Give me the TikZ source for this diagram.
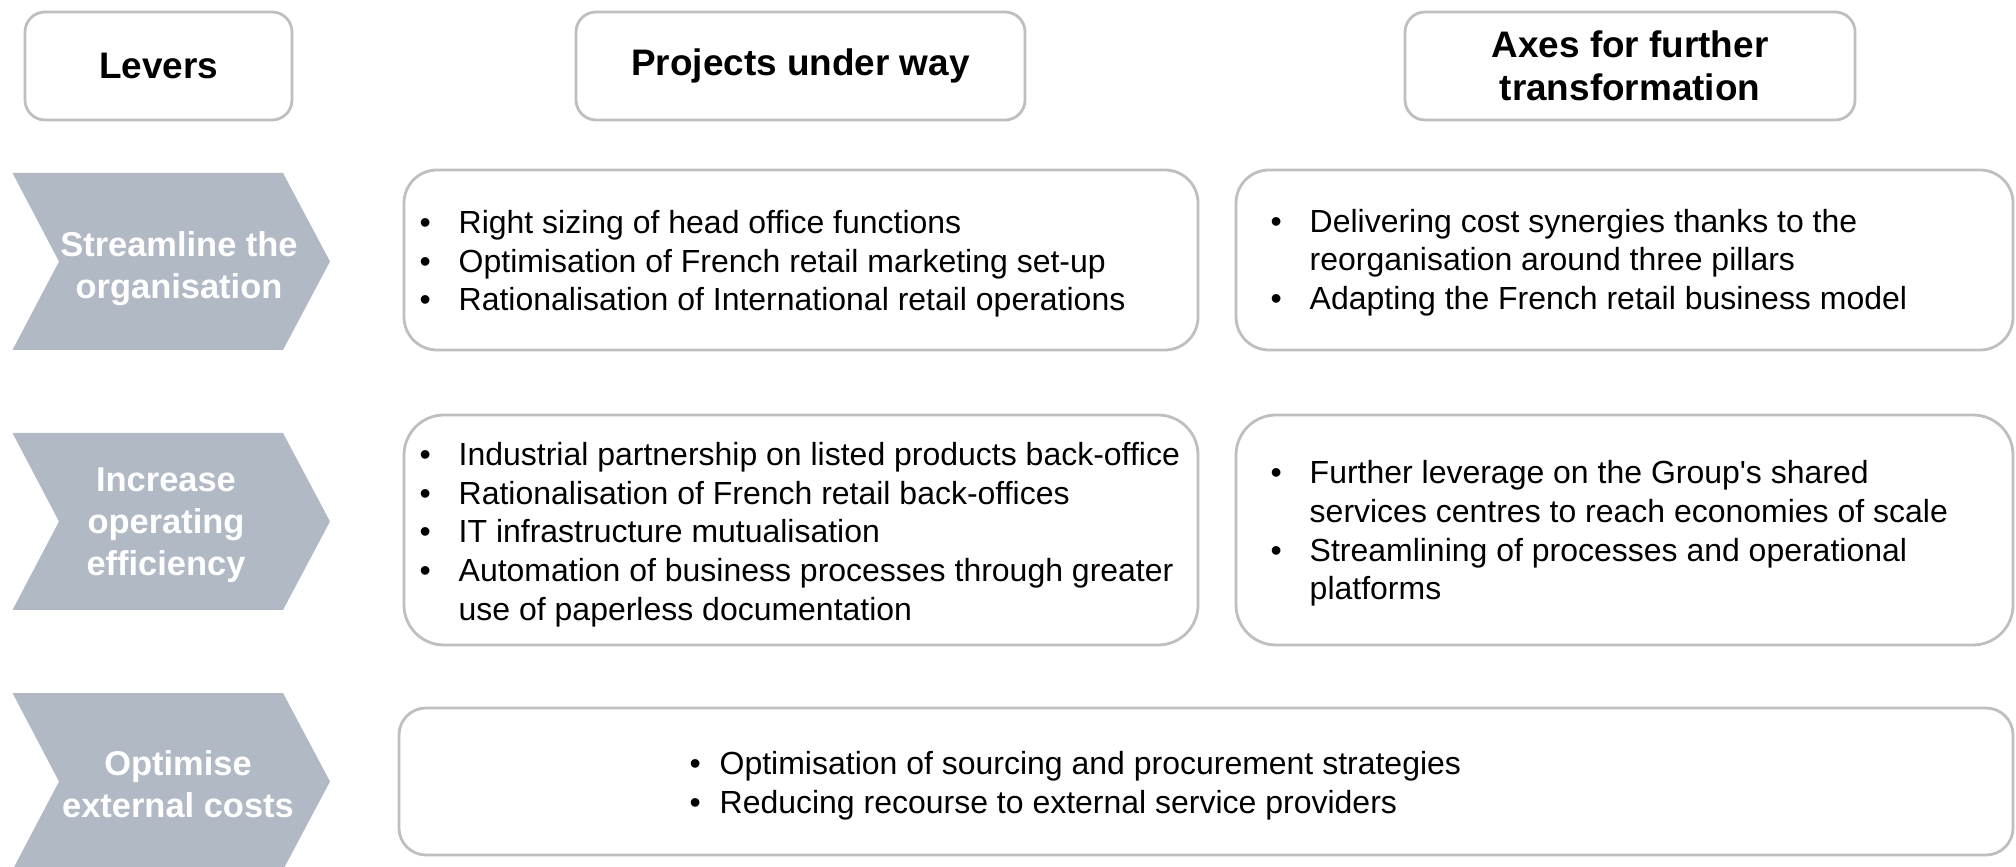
\documentclass[tikz,border=0pt]{standalone}
\usepackage{fontspec}
\setmainfont{Liberation Sans}
\definecolor{levergray}{RGB}{177,185,197}
\definecolor{boxgray}{RGB}{191,191,191}
\tikzset{
  hdr/.style={draw=boxgray, line width=0.8pt, rounded corners=0.2cm, minimum height=1.08cm,
    align=center, font=\fontsize{10.5}{12.2}\selectfont\bfseries},
  panel/.style={draw=boxgray, line width=0.8pt, rounded corners=0.33cm},
  blist/.style={anchor=west, align=left, inner sep=0pt, font=\fontsize{9.1}{11}\selectfont},
  levertxt/.style={text=white, align=center, font=\fontsize{9.8}{12}\selectfont\bfseries}
}
\newcommand{\bitem}{\makebox[0.39cm][l]{\textbullet}}
\newcommand{\bcont}{\hspace*{0.39cm}}

\begin{document}
\begin{tikzpicture}
        \useasboundingbox (0,0) rectangle (20.16,8.66);
        % levers
        \foreach \yc/\xt/\yt/\lbl [count=\i] in {6.045/1.79/5.975/{Streamline the\\organisation},
            3.445/1.66/3.405/{Increase\\operating\\efficiency}, 0.845/1.78/0.815/{Optimise\\external costs}}{
          \fill[levergray] (0.125,\yc+0.885) -- (2.83,\yc+0.885) -- (3.30,\yc)
            -- (2.83,\yc-0.885) -- (0.125,\yc-0.885) -- (0.59,\yc) -- cycle;
          \node[levertxt] (lever\i) at (\xt,\yt) {\lbl};
        }
        % column headers
        \node[hdr,minimum width=2.67cm] (levers) at (1.585,8.0) {Levers};
        \node[hdr,minimum width=4.49cm] (projects) at (8.005,8.0) {Projects under way};
        \node[hdr,minimum width=4.50cm] (axes) at (16.30,8.0) {Axes for further\\transformation};
        % panels
        \node[panel,minimum width=7.94cm,minimum height=1.80cm] (proj1) at (8.01,6.06) {};
        \node[panel,minimum width=7.77cm,minimum height=1.80cm] (axes1) at (16.245,6.06) {};
        \node[panel,minimum width=7.94cm,minimum height=2.30cm,rounded corners=0.4cm] (proj2) at (8.01,3.36) {};
        \node[panel,minimum width=7.77cm,minimum height=2.30cm,rounded corners=0.4cm] (axes2) at (16.245,3.36) {};
        \node[panel,minimum width=16.14cm,minimum height=1.47cm,rounded corners=0.27cm] (costs) at (12.06,0.845) {};
        % bullet lists
        \node[blist] (proj1txt) at (4.19,6.02) {\bitem Right sizing of head office functions\\
          \bitem Optimisation of French retail marketing set-up\\
          \bitem Rationalisation of International retail operations};
        \node[blist] (axes1txt) at (12.70,6.035) {\bitem Delivering cost synergies thanks to the\\
          \bcont reorganisation around three pillars\\
          \bitem Adapting the French retail business model};
        \node[blist] (proj2txt) at (4.19,3.315) {\bitem Industrial partnership on listed products back-office\\
          \bitem Rationalisation of French retail back-offices\\
          \bitem IT infrastructure mutualisation\\
          \bitem Automation of business processes through greater\\
          \bcont use of paperless documentation};
        \node[blist] (axes2txt) at (12.70,3.325) {\bitem Further leverage on the Group\textquotesingle s shared\\
          \bcont services centres to reach economies of scale\\
          \bitem Streamlining of processes and operational\\
          \bcont platforms};
        \node[blist] (coststxt) at (6.89,0.805) {\makebox[0.30cm][l]{\textbullet}Optimisation of sourcing and procurement strategies\\
          \makebox[0.30cm][l]{\textbullet}Reducing recourse to external service providers};
\end{tikzpicture}
\end{document}
